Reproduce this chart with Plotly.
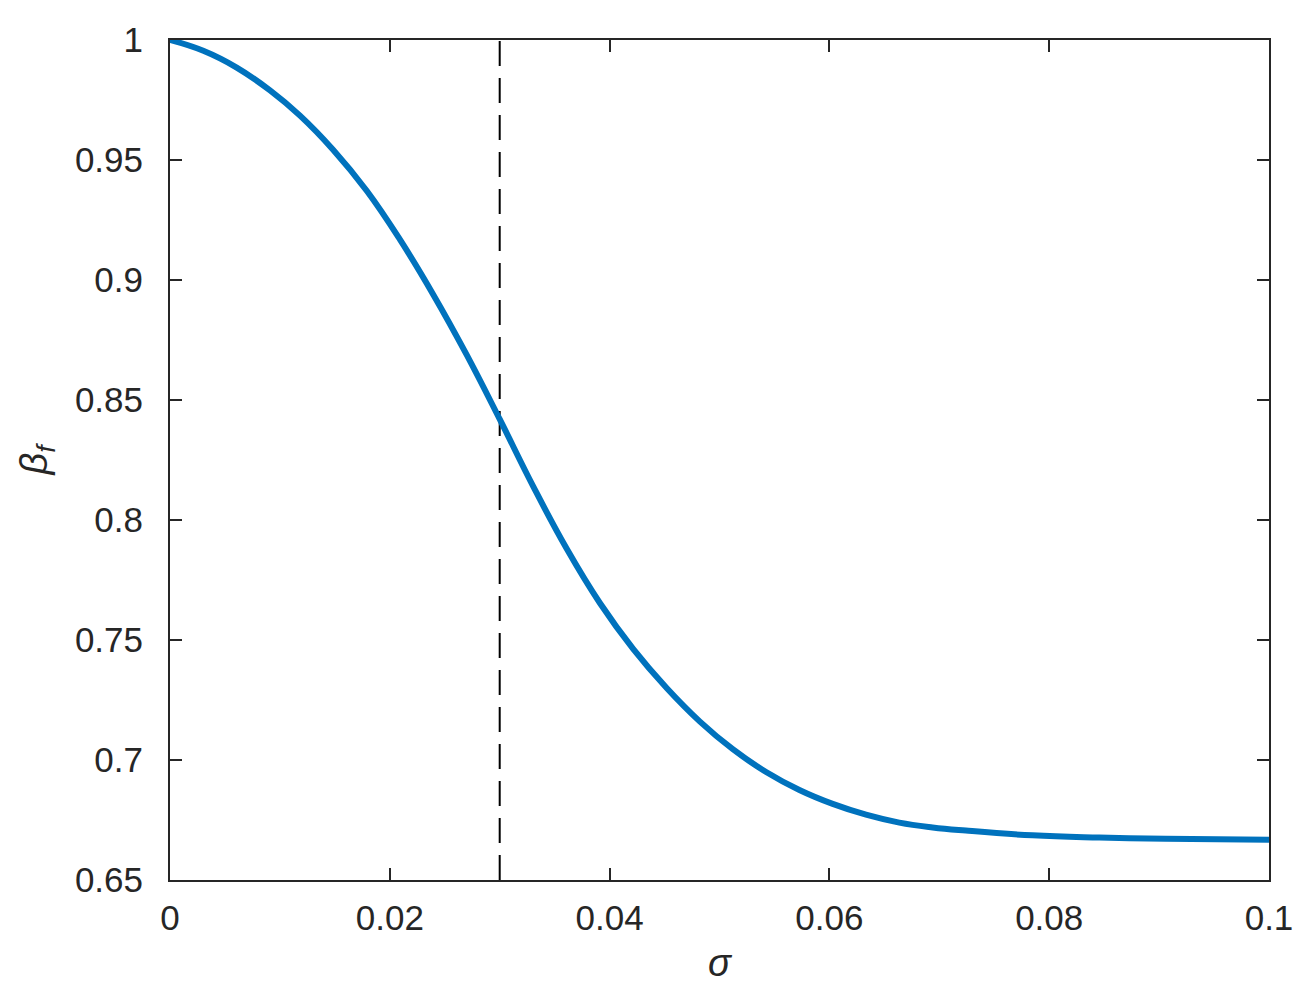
import plotly.graph_objects as go

# values
sigma = [0.0, 0.00303, 0.00607, 0.0091, 0.01183, 0.01486, 0.0179, 0.02093,
         0.02396, 0.027, 0.03, 0.03306, 0.0361, 0.03913, 0.04216, 0.04519,
         0.04822, 0.05121, 0.05424, 0.05727, 0.0603, 0.06333, 0.06636,
         0.06939, 0.07242, 0.07848, 0.08455, 0.0906, 0.1]
beta_f = [1.0, 0.9955, 0.9885, 0.979, 0.9685, 0.9542, 0.9372, 0.9168,
          0.8939, 0.8688, 0.842, 0.8139, 0.788, 0.7653, 0.7462, 0.73,
          0.716, 0.7045, 0.695, 0.6875, 0.6817, 0.6772, 0.6739,
          0.6719, 0.6706, 0.6686, 0.6677, 0.6672, 0.6668]

marker_x = [0.03, 0.03]
marker_y = [0.65, 1.0]

x_ticks = [0, 0.02, 0.04, 0.06, 0.08, 0.1]
x_labels = ["0", "0.02", "0.04", "0.06", "0.08", "0.1"]
y_ticks = [0.65, 0.7, 0.75, 0.8, 0.85, 0.9, 0.95, 1.0]
y_labels = ["0.65", "0.7", "0.75", "0.8", "0.85", "0.9", "0.95", "1"]

ink = "#262626"

fig = go.Figure()
fig.add_trace(go.Scatter(
    x=marker_x, y=marker_y, mode="lines",
    line=dict(color="black", width=2, dash="25px,12px"),
    showlegend=False, hoverinfo="skip",
))
fig.add_trace(go.Scatter(
    x=sigma, y=beta_f, mode="lines", line_shape="spline",
    line=dict(color="#0072BD", width=6, smoothing=1.2),
    showlegend=False,
))

axis_style = dict(
    showline=True, linecolor=ink, linewidth=2, mirror="ticks",
    ticks="inside", ticklen=12, tickwidth=2, tickcolor=ink,
    showgrid=False, zeroline=False,
    tickfont=dict(size=35, color=ink),
)

# the page body adds 8px on each side, so the figure is a bit smaller
fig.update_layout(
    width=1306, height=988,
    margin=dict(l=162, r=45, t=32, b=116),
    plot_bgcolor="white", paper_bgcolor="white",
    font=dict(family="Liberation Sans, Arial, sans-serif", color=ink),
    xaxis=dict(
        range=[0, 0.1], tickvals=x_ticks, ticktext=x_labels,
        ticklabelstandoff=6,
        title=dict(text="<i>σ</i>", font=dict(size=38, color=ink), standoff=13),
        **axis_style,
    ),
    yaxis=dict(
        range=[0.65, 1.0], tickvals=y_ticks, ticktext=y_labels,
        ticklabelstandoff=18,
        title=dict(text="<i>β<sub>f</sub></i>", font=dict(size=38, color=ink), standoff=16),
        **axis_style,
    ),
)

fig.write_html("out.html")
